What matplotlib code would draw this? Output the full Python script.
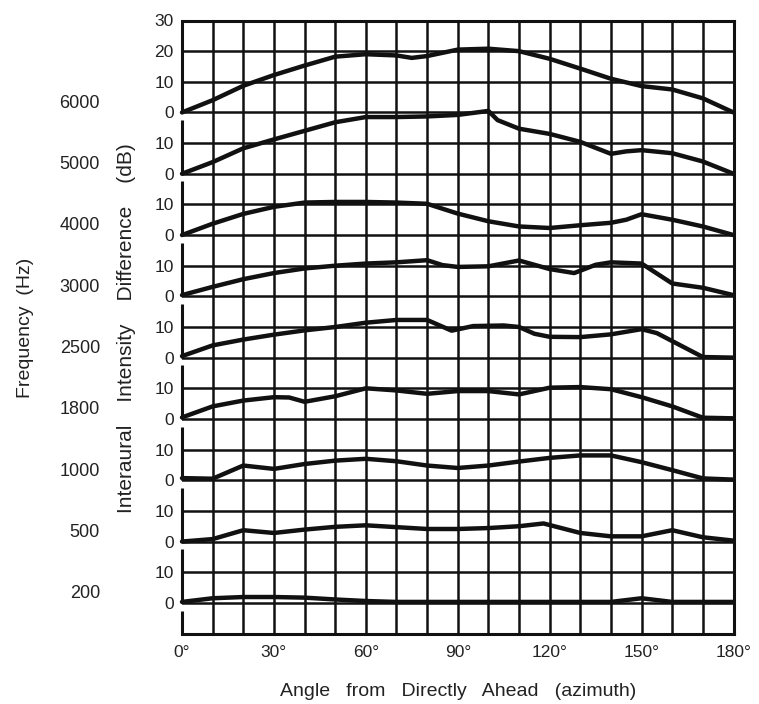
import matplotlib
matplotlib.use("Agg")
import matplotlib.pyplot as plt

plt.rcParams['font.family'] = ['Liberation Sans', 'DejaVu Sans']

# ---- data ----
frequencies = ['6000', '5000', '4000', '3000', '2500', '1800', '1000', '500', '200']

ang_6000 = [0, 10, 20, 30, 40, 50, 60, 70, 75, 80, 90, 100, 110, 120, 130, 140, 150, 160, 170, 180]
iid_6000 = [0, 4, 8.7, 12.2, 15.3, 18.2, 19, 18.6, 17.8, 18.4, 20.5, 20.8, 20, 17.5, 14.3, 11, 8.6, 7.5, 4.6, 0]

ang_5000 = [0, 10, 20, 30, 40, 50, 60, 70, 80, 90, 100, 103, 110, 120, 130, 140, 145, 150, 160, 170, 180]
iid_5000 = [0, 3.8, 8.3, 11.2, 14, 16.8, 18.5, 18.5, 18.7, 19.2, 20.5, 17.5, 14.7, 13, 10.4, 6.5, 7.3, 7.7, 6.7, 4, 0]

ang_4000 = [0, 10, 20, 30, 40, 50, 60, 70, 80, 90, 100, 110, 120, 130, 140, 145, 150, 160, 170, 180]
iid_4000 = [0, 3.7, 6.9, 9.2, 10.6, 10.8, 10.8, 10.6, 10.2, 7, 4.5, 2.8, 2.3, 3.2, 4, 5, 6.8, 5, 2.8, 0]

ang_3000 = [0, 10, 20, 30, 40, 50, 60, 70, 80, 85, 90, 100, 110, 120, 128, 135, 140, 150, 160, 170, 180]
iid_3000 = [0.4, 3.1, 5.6, 7.6, 9.1, 10, 10.7, 11.1, 11.8, 10.2, 9.6, 9.8, 11.7, 8.9, 7.6, 10.3, 11.1, 10.7, 4.2, 2.8, 0.4]

ang_2500 = [0, 10, 20, 30, 40, 50, 60, 70, 80, 88, 95, 105, 110, 115, 120, 130, 140, 150, 155, 160, 170, 180]
iid_2500 = [0.5, 4, 5.9, 7.5, 8.9, 10, 11.4, 12.3, 12.3, 8.8, 10.3, 10.5, 10, 7.8, 6.8, 6.7, 7.6, 9.3, 8, 5.4, 0.2, 0]

ang_1800 = [0, 10, 20, 30, 35, 40, 50, 60, 70, 80, 90, 100, 110, 120, 130, 140, 150, 160, 170, 180]
iid_1800 = [0.5, 4.1, 6, 7.1, 7, 5.6, 7.4, 10, 9.3, 8.2, 9.1, 9.1, 8, 10.2, 10.4, 9.7, 7.1, 4.1, 0.4, 0.2]

ang_1000 = [0, 10, 20, 30, 40, 50, 60, 70, 80, 90, 100, 110, 120, 130, 140, 150, 160, 170, 180]
iid_1000 = [0.7, 0.5, 4.8, 3.7, 5.3, 6.4, 7, 6.2, 4.8, 4, 4.8, 6.1, 7.3, 8.1, 8.1, 5.9, 3.3, 0.6, 0.2]

ang_500 = [0, 10, 20, 30, 40, 50, 60, 70, 80, 90, 100, 110, 118, 130, 140, 150, 160, 170, 180]
iid_500 = [0, 0.8, 3.7, 2.8, 3.9, 4.8, 5.3, 4.7, 4.1, 4.1, 4.4, 5, 5.9, 2.8, 1.7, 1.7, 3.7, 1.4, 0.3]

ang_200 = [0, 10, 20, 30, 40, 50, 60, 70, 80, 90, 100, 110, 120, 130, 140, 150, 160, 170, 180]
iid_200 = [0.3, 1.5, 1.9, 1.9, 1.7, 1.1, 0.6, 0.3, 0.3, 0.3, 0.3, 0.3, 0.3, 0.3, 0.3, 1.5, 0.3, 0.3, 0.3]

x_ticks = [0, 30, 60, 90, 120, 150, 180]
x_tick_labels = ['0°', '30°', '60°', '90°', '120°', '150°', '180°']

series = [(ang_6000, iid_6000), (ang_5000, iid_5000), (ang_4000, iid_4000),
          (ang_3000, iid_3000), (ang_2500, iid_2500), (ang_1800, iid_1800),
          (ang_1000, iid_1000), (ang_500, iid_500), (ang_200, iid_200)]

band_step = 20
n = len(frequencies)
baselines = [band_step * (n - 1 - i) for i in range(n)]
ymin, ymax = -10, baselines[0] + 30

# ---- figure ----
W, H = 759, 704
fig = plt.figure(figsize=(W / 100, H / 100), dpi=100)
L, R, T, B = 182, 733.5, 20.5, 633.5
ax = fig.add_axes([L / W, (H - B) / H, (R - L) / W, (B - T) / H])
ax.set_xlim(0, 180)
ax.set_ylim(ymin, ymax)

ink = '#111111'
grid_kw = dict(color=ink, lw=1.8, zorder=1)
for x in range(10, 180, 10):
    ax.axvline(x, **grid_kw)
for y in range(ymin, ymax + 1, 10):
    ax.axhline(y, **grid_kw)

# left spine in segments with small gaps under each band's zero line
gap = 2.5
for i in range(n):
    lo = baselines[i]
    hi = ymax if i == 0 else baselines[i - 1] - gap
    ax.plot([0, 0], [lo, hi], color=ink, lw=2.2, solid_capstyle='butt', zorder=2, clip_on=False)
ax.plot([0, 0], [baselines[-1] - gap, ymin], color=ink, lw=2.2, solid_capstyle='butt',
        zorder=2, clip_on=False)

for s in ['top', 'bottom', 'right', 'left']:
    ax.spines[s].set_visible(False)
ax.plot([180, 180], [ymin, ymax], color=ink, lw=2.2, zorder=2, clip_on=False)
ax.plot([0, 180], [ymin, ymin], color=ink, lw=2.2, zorder=2, clip_on=False)
ax.plot([0, 180], [ymax, ymax], color=ink, lw=2.2, zorder=2, clip_on=False)

for (a, v), b in zip(series, baselines):
    ax.plot(a, [b + t for t in v], color=ink, lw=3.2, solid_joinstyle='round',
            solid_capstyle='round', zorder=3, clip_on=False)

# y ticks
yt, yl = [], []
for b in baselines:
    yt += [b, b + 10]
    yl += ['0', '10']
yt += [baselines[0] + 20, baselines[0] + 30]
yl += ['20', '30']
ax.set_yticks(yt)
ax.set_yticklabels(yl, fontsize=12.5)
ax.set_xticks(x_ticks)
ax.set_xticklabels(x_tick_labels, fontsize=12.5)
ax.tick_params(length=0, colors='#222222')
ax.tick_params(axis='y', pad=6)
ax.tick_params(axis='x', pad=8)

# frequency labels
tr = ax.get_yaxis_transform()
for f, b in zip(frequencies, baselines):
    ax.text((100 - L) / (R - L), b + 3, f, transform=tr, ha='right', va='center',
            fontsize=13, color='#222222')

fig.text(127 / W, 1 - 328 / H, 'Interaural    Intensity    Difference    (dB)', rotation=90,
         ha='center', va='center', fontsize=15, color='#222222')
fig.text(25 / W, 1 - 328 / H, 'Frequency  (Hz)', rotation=90,
         ha='center', va='center', fontsize=14, color='#222222')
fig.text(458 / W, 1 - 692 / H, 'Angle   from   Directly   Ahead   (azimuth)',
         ha='center', va='center', fontsize=14, color='#222222')

fig.savefig('out.png', dpi=100, facecolor='white')
